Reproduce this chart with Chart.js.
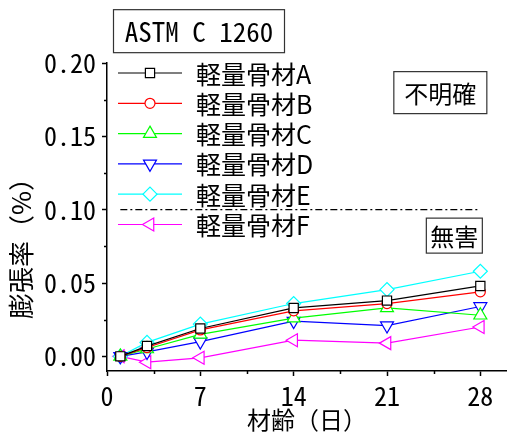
<!DOCTYPE html>
<html>
<head>
<meta charset="utf-8">
<script src="https://cdn.jsdelivr.net/npm/chart.js@4/dist/chart.umd.min.js"></script>
<style>
  html, body { margin: 0; padding: 0; background: #fff; }
  #wrap { width: 507px; height: 432px; }
</style>
</head>
<body>
<div id="wrap"><canvas id="c"></canvas></div>
<script>
// Age of specimens (days)
const days = [1, 3, 7, 14, 21, 28];

// Expansion (%) for each lightweight aggregate
const seriesA = [0, 0.007, 0.019, 0.033, 0.038, 0.048];
const seriesB = [0, 0.006, 0.018, 0.031, 0.036, 0.044];
const seriesC = [0, 0.005, 0.015, 0.026, 0.033, 0.028];
const seriesD = [0, 0.003, 0.010, 0.024, 0.021, 0.034];
const seriesE = [0, 0.0095, 0.022, 0.036, 0.0455, 0.058];
const seriesF = [0, -0.004, -0.001, 0.011, 0.009, 0.020];

const seriesNames = ['軽量骨材A', '軽量骨材B', '軽量骨材C', '軽量骨材D', '軽量骨材E', '軽量骨材F'];

// Criterion line (0.10 %) between first and last age
const limitValue = 0.10;
const limitDays = [1, 28];

// Axis ticks
const xMajorTicks = [0, 7, 14, 21, 28];
const xMinorTicks = [3.5, 10.5, 17.5, 24.5];
const yMajorTicks = [0, 0.05, 0.10, 0.15, 0.20];
const yMinorTicks = [0.025, 0.075, 0.125, 0.175];

const monoFont = "'Noto Sans Mono CJK JP', 'DejaVu Sans Mono', monospace";
const cjkFont = "'Noto Sans CJK JP', 'Noto Sans', sans-serif";

const styles = [
  { color: '#000000', pointStyle: 'rect',     rotation: 0,   radius: 6.5 },
  { color: '#ff0000', pointStyle: 'circle',   rotation: 0,   radius: 5 },
  { color: '#00ff00', pointStyle: 'triangle', rotation: 0,   radius: 7.5 },
  { color: '#0000ff', pointStyle: 'triangle', rotation: 180, radius: 7.5 },
  { color: '#00ffff', pointStyle: 'rectRot',  rotation: 0,   radius: 7 },
  { color: '#ff00ff', pointStyle: 'triangle', rotation: -90, radius: 7.5 }
];

const allSeries = [seriesA, seriesB, seriesC, seriesD, seriesE, seriesF];

const datasets = allSeries.map((vals, i) => ({
  label: seriesNames[i],
  data: days.map((d, k) => ({ x: d, y: vals[k] })),
  borderColor: styles[i].color,
  backgroundColor: '#ffffff',
  borderWidth: 1.2,
  pointStyle: styles[i].pointStyle,
  rotation: styles[i].rotation,
  pointRadius: styles[i].radius,
  pointHoverRadius: styles[i].radius,
  pointBorderColor: styles[i].color,
  pointBackgroundColor: '#ffffff',
  pointBorderWidth: 1.2,
  tension: 0
}));

datasets.unshift({
  label: 'limit',
  data: limitDays.map(d => ({ x: d, y: limitValue })),
  borderColor: '#000000',
  borderWidth: 1.2,
  borderDash: [7, 3, 2, 3],
  pointRadius: 0,
  tension: 0
});

function drawMarker(ctx, st, x, y) {
  ctx.save();
  ctx.strokeStyle = st.color;
  ctx.fillStyle = '#ffffff';
  ctx.lineWidth = 1.2;
  Chart.helpers.drawPoint(ctx, { pointStyle: st.pointStyle, rotation: st.rotation, radius: st.radius, borderWidth: 1.2 }, x, y);
  ctx.restore();
}

function textBox(ctx, text, cx, cy, w, h, font) {
  ctx.save();
  ctx.fillStyle = '#ffffff';
  ctx.fillRect(cx - w / 2, cy - h / 2, w, h);
  ctx.strokeStyle = '#333333';
  ctx.lineWidth = 1.2;
  ctx.strokeRect(cx - w / 2, cy - h / 2, w, h);
  ctx.fillStyle = '#000000';
  ctx.font = font;
  ctx.textAlign = 'center';
  ctx.textBaseline = 'middle';
  ctx.fillText(text, cx, cy + 1);
  ctx.restore();
}

const decorations = {
  id: 'decorations',
  afterDraw(chart) {
    const { ctx, chartArea, scales } = chart;
    const xs = scales.x, ys = scales.y;

    // minor tick marks
    ctx.save();
    ctx.strokeStyle = '#000';
    ctx.lineWidth = 1.5;
    ctx.beginPath();
    xMinorTicks.forEach(v => {
      const px = Math.round(xs.getPixelForValue(v)) + 0.5;
      ctx.moveTo(px, chartArea.bottom);
      ctx.lineTo(px, chartArea.bottom + 3);
    });
    yMinorTicks.forEach(v => {
      const py = Math.round(ys.getPixelForValue(v)) + 0.5;
      ctx.moveTo(chartArea.left, py);
      ctx.lineTo(chartArea.left - 3, py);
    });
    ctx.stroke();
    ctx.restore();

    // legend
    const lx = chartArea.left;
    const ly = chartArea.top + 10;
    const rowH = 30.3;
    ctx.save();
    styles.forEach((st, i) => {
      const y = ly + i * rowH;
      ctx.strokeStyle = st.color;
      ctx.lineWidth = 1.2;
      ctx.beginPath();
      ctx.moveTo(lx + 11, y);
      ctx.lineTo(lx + 75, y);
      ctx.stroke();
      drawMarker(ctx, st, lx + 43, y);
      ctx.fillStyle = '#000';
      ctx.font = '25px ' + cjkFont;
      ctx.textAlign = 'left';
      ctx.textBaseline = 'middle';
      ctx.fillText(seriesNames[i], lx + 89, y + 1);
    });
    ctx.restore();

    // test-method label above the plot
    textBox(ctx, 'ASTM C 1260', xs.getPixelForValue(6.9), ys.getPixelForValue(0.2217), 171, 43, '27px ' + monoFont);

    // judgement labels
    textBox(ctx, '不明確', xs.getPixelForValue(25.0), ys.getPixelForValue(0.1798), 93, 42, '24px ' + cjkFont);
    textBox(ctx, '無害', xs.getPixelForValue(26.05), ys.getPixelForValue(0.0823), 56, 35, '24px ' + cjkFont);

    // y axis title
    ctx.save();
    ctx.translate(21, ys.getPixelForValue(0.078));
    ctx.rotate(-Math.PI / 2);
    ctx.fillStyle = '#000';
    ctx.font = '26px ' + cjkFont;
    ctx.textAlign = 'center';
    ctx.textBaseline = 'middle';
    ctx.fillText('膨張率（%）', 0, 0);
    ctx.restore();
  }
};

new Chart(document.getElementById('c'), {
  type: 'line',
  data: { datasets },
  options: {
    responsive: true,
    maintainAspectRatio: false,
    animation: false,
    layout: { autoPadding: false, padding: { top: 63, right: 0, bottom: 0, left: 0 } },
    plugins: {
      legend: { display: false },
      tooltip: { enabled: false },
      title: { display: false }
    },
    scales: {
      x: {
        type: 'linear',
        min: 0,
        max: 30,
        afterBuildTicks: s => { s.ticks = xMajorTicks.map(v => ({ value: v })); },
        afterFit: s => { s.height = 61; },
        grid: { drawOnChartArea: false, drawTicks: true, tickLength: 5, tickColor: '#000', tickWidth: 1.5 },
        border: { display: true, color: '#000', width: 1.5 },
        ticks: { color: '#000', padding: 5, maxRotation: 0, font: { family: monoFont, size: 26 } },
        title: {
          display: true,
          text: '材齢（日）',
          color: '#000',
          padding: { top: 0, bottom: 0 },
          font: { family: cjkFont, size: 24, lineHeight: 1 }
        }
      },
      y: {
        type: 'linear',
        min: -0.01,
        max: 0.20,
        afterBuildTicks: s => { s.ticks = yMajorTicks.map(v => ({ value: v })); },
        afterFit: s => { s.width = 107; },
        grid: { drawOnChartArea: false, drawTicks: true, tickLength: 5, tickColor: '#000', tickWidth: 1.5 },
        border: { display: true, color: '#000', width: 1.5 },
        ticks: {
          color: '#000',
          padding: 6,
          font: { family: monoFont, size: 26 },
          callback: v => Number(v).toFixed(2)
        }
      }
    }
  },
  plugins: [decorations]
});
</script>
</body>
</html>
